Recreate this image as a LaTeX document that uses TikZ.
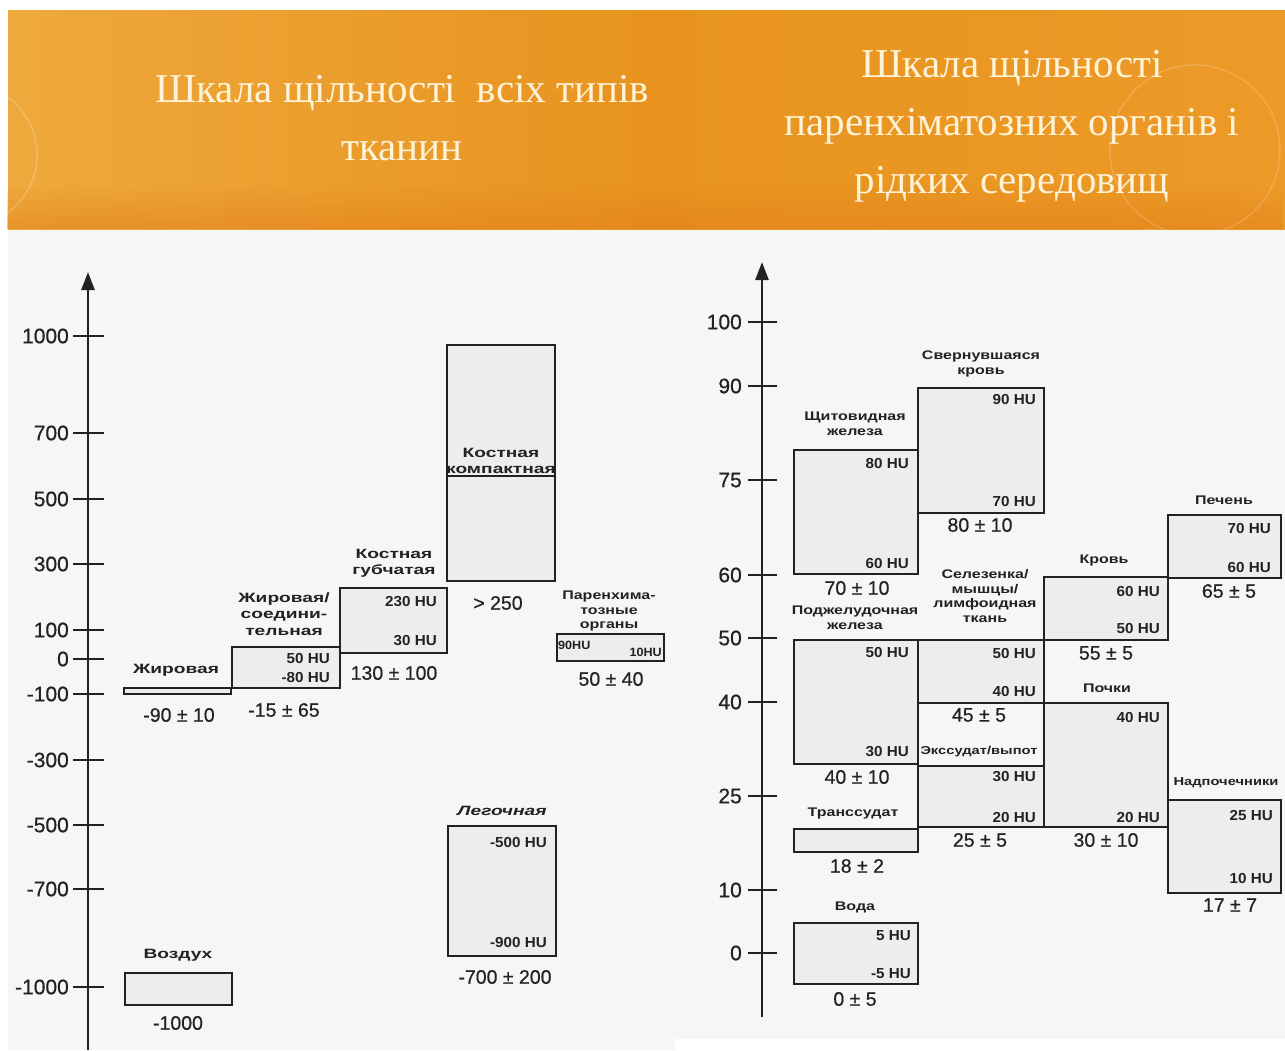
\documentclass[tikz,border=0pt]{standalone}
\usepackage{fontspec}
\setmainfont{Liberation Sans}
\newfontfamily\labf[FakeStretch=1.42]{Liberation Sans Bold}
\newfontfamily\labif[FakeStretch=1.42]{Liberation Sans Bold Italic}
\newfontfamily\slabf[FakeStretch=1.28]{Liberation Sans Bold}
\newfontfamily\huf[FakeStretch=1.05]{Liberation Sans Bold}
\newfontfamily\valf[FakeBold=0.6]{Liberation Sans}
\newfontfamily\titf{Liberation Serif}
\usetikzlibrary{arrows.meta,fadings}
\definecolor{bandA}{HTML}{EEA93C}
\definecolor{bandB}{HTML}{E8931F}
\definecolor{bandC}{HTML}{EC9A28}
\definecolor{bandD}{HTML}{E2801A}
\definecolor{titc}{HTML}{FFF3D8}
\definecolor{bgc}{HTML}{F6F6F6}
\definecolor{boxf}{HTML}{EDEDED}
\definecolor{ink}{HTML}{222222}
\tikzset{
  box/.style={draw=ink, fill=boxf, line width=1.8pt},
  lab/.style={font=\labf\fontsize{13.5}{16.5}\selectfont, align=center, inner sep=0pt, text=ink},
  slab/.style={font=\slabf\fontsize{12.5}{14.5}\selectfont, align=center, inner sep=0pt, text=ink},
  hu/.style={font=\huf\fontsize{14.5}{16}\selectfont, anchor=east, inner sep=0pt, text=ink},
  shu/.style={font=\huf\fontsize{12}{14}\selectfont, inner sep=0pt, text=ink},
  val/.style={font=\valf\fontsize{19.5}{22}\selectfont, inner sep=0pt, text=ink},
  axl/.style={font=\valf\fontsize{21}{24}\selectfont, anchor=east, inner sep=0pt, text=ink},
  axisline/.style={draw=ink, line width=2.6pt, -{Triangle[width=13pt,length=18pt]}},
  tickline/.style={draw=ink, line width=2.4pt},
  ttl/.style={font=\titf\fontsize{41}{58}\selectfont, text=titc, align=center, inner sep=0pt}
}
\begin{document}
\begin{tikzpicture}[x=1pt,y=-1pt]
\useasboundingbox (0,0) rectangle (1285,1050);
% background
\fill[white] (0,0) rectangle (1285,1050);
\fill[bgc] (8,229) rectangle (1285,1050);
\fill[white] (675,1039) rectangle (1285,1050);
% header band
\shade[left color=bandA, right color=bandC, middle color=bandB] (8,10) rectangle (1285,229);
\fill[bandD, opacity=0.55, path fading=north] (8,185) rectangle (1285,229);
\begin{scope}
  \clip (8,10) rectangle (1285,229);
  \draw[white, opacity=0.2, line width=1.6pt] (-35,155) circle (72);
  \draw[white, opacity=0.16, line width=1.6pt] (1195,150) circle (85);
  \draw[white, opacity=0.13, line width=1.6pt] (1150,300) circle (70);
\end{scope}
\node[ttl] (t1) at (402,118) {Шкала щільності\ \ всіх типів\\тканин};
\node[ttl] (t2) at (1012,126) {Шкала щільності\\паренхіматозних органів і\\рідких середовищ};

% ================= LEFT CHART =================
\draw[axisline] (88,1050) -- (88,272);
\foreach \v/\y in {1000/336,700/433,500/499,300/564,100/630,0/659,-100/694,-300/760,-500/825,-700/889,-1000/987}{
  \draw[tickline] (73,\y) -- (104,\y);
  \node[axl] at (69,\y) {\v};
}
% boxes
\draw[box] (124,688) rectangle (231,694);
\draw[box] (232,647) rectangle (340,688);
\draw[box] (340,588) rectangle (447,653);
\draw[box] (447,345) rectangle (555,581);
\draw[ink, line width=1.8pt] (447,476) -- (555,476);
\draw[box] (557,634) rectangle (664,661);
\draw[box] (448,826) rectangle (556,956);
\draw[box] (125,973) rectangle (232,1005);
% labels
\node[lab] (l1) at (176,670) {Жировая};
\node[lab] (l2) at (284,614) {Жировая/\\соедини-\\тельная};
\node[lab] (l3) at (394,563) {Костная\\губчатая};
\node[lab] (l4) at (501,461) {Костная\\компактная};
\node[slab] (l5) at (609,611) {Паренхима-\\тозные\\органы};
\node[lab, font=\labif\fontsize{13.5}{16.5}\selectfont] (l6) at (502,811) {Легочная};
\node[lab] (l7) at (178,955) {Воздух};
% HU
\node[hu] (h1) at (330,658) {50 HU};
\node[hu] (h2) at (330,677) {-80 HU};
\node[hu] (h3) at (437,602) {230 HU};
\node[hu] (h4) at (437,641) {30 HU};
\node[shu, anchor=west] (h5) at (558,645) {90HU};
\node[shu, anchor=east] (h6) at (662,652) {10HU};
\node[hu] (h7) at (547,842) {-500 HU};
\node[hu] (h8) at (547,942) {-900 HU};
% values
\node[val] (v1) at (179,715) {-90 ± 10};
\node[val] (v2) at (284,710) {-15 ± 65};
\node[val] (v3) at (394,673) {130 ± 100};
\node[val] (v4) at (498,603) {> 250};
\node[val] (v5) at (611,679) {50 ± 40};
\node[val] (v6) at (505,977) {-700 ± 200};
\node[val] (v7) at (178,1023) {-1000};

% ================= RIGHT CHART =================
\draw[axisline] (762,1017) -- (762,262);
\foreach \v/\y in {100/322,90/386,75/480,60/575,50/638,40/702,25/796,10/890,0/953}{
  \draw[tickline] (748,\y) -- (777,\y);
  \node[axl] at (742,\y) {\v};
}
% boxes
\draw[box] (794,450) rectangle (918,574);
\draw[box] (918,388) rectangle (1044,513);
\draw[box] (1168,515) rectangle (1281,578);
\draw[box] (1044,577) rectangle (1168,640);
\draw[box] (794,640) rectangle (918,764);
\draw[box] (918,640) rectangle (1044,703);
\draw[box] (918,766) rectangle (1044,827);
\draw[box] (1044,703) rectangle (1168,827);
\draw[box] (1168,800) rectangle (1281,893);
\draw[box] (794,829) rectangle (918,852);
\draw[box] (794,923) rectangle (918,984);
% labels
\node[slab] (r1) at (855,424) {Щитовидная\\железа};
\node[slab] (r2) at (981,364) {Свернувшаяся\\кровь};
\node[slab] (r3) at (1224,500) {Печень};
\node[slab] (r4) at (1104,560) {Кровь};
\node[slab] (r5) at (985,596) {Селезенка/\\мышцы/\\лимфоидная\\ткань};
\node[slab] (r6) at (855,618) {Поджелудочная\\железа};
\node[slab, font=\slabf\fontsize{11.5}{14}\selectfont] (r7) at (979,752) {Экссудат/выпот};
\node[slab] (r8) at (1107,688) {Почки};
\node[slab, font=\slabf\fontsize{11.5}{14}\selectfont] (r9) at (1226,783) {Надпочечники};
\node[slab] (r10) at (853,813) {Транссудат};
\node[slab] (r11) at (855,907) {Вода};
% HU
\node[hu] (q1) at (909,464) {80 HU};
\node[hu] (q2) at (909,563) {60 HU};
\node[hu] (q3) at (1036,400) {90 HU};
\node[hu] (q4) at (1036,501) {70 HU};
\node[hu] (q5) at (1271,528) {70 HU};
\node[hu] (q6) at (1271,567) {60 HU};
\node[hu] (q7) at (1160,591) {60 HU};
\node[hu] (q8) at (1160,628) {50 HU};
\node[hu] (q9) at (1036,653) {50 HU};
\node[hu] (q10) at (1036,691) {40 HU};
\node[hu] (q11) at (909,652) {50 HU};
\node[hu] (q12) at (909,752) {30 HU};
\node[hu] (q13) at (1036,777) {30 HU};
\node[hu] (q14) at (1036,817) {20 HU};
\node[hu] (q15) at (1160,717) {40 HU};
\node[hu] (q16) at (1160,817) {20 HU};
\node[hu] (q17) at (1273,815) {25 HU};
\node[hu] (q18) at (1273,878) {10 HU};
\node[hu] (q19) at (911,936) {5 HU};
\node[hu] (q20) at (911,974) {-5 HU};
% values
\node[val] (w1) at (857,588) {70 ± 10};
\node[val] (w2) at (980,525) {80 ± 10};
\node[val] (w3) at (1229,591) {65 ± 5};
\node[val] (w4) at (1106,653) {55 ± 5};
\node[val] (w5) at (979,715) {45 ± 5};
\node[val] (w6) at (857,777) {40 ± 10};
\node[val] (w7) at (980,840) {25 ± 5};
\node[val] (w8) at (1106,840) {30 ± 10};
\node[val] (w9) at (1230,905) {17 ± 7};
\node[val] (w10) at (857,866) {18 ± 2};
\node[val] (w11) at (855,999) {0 ± 5};
\end{tikzpicture}
\end{document}
